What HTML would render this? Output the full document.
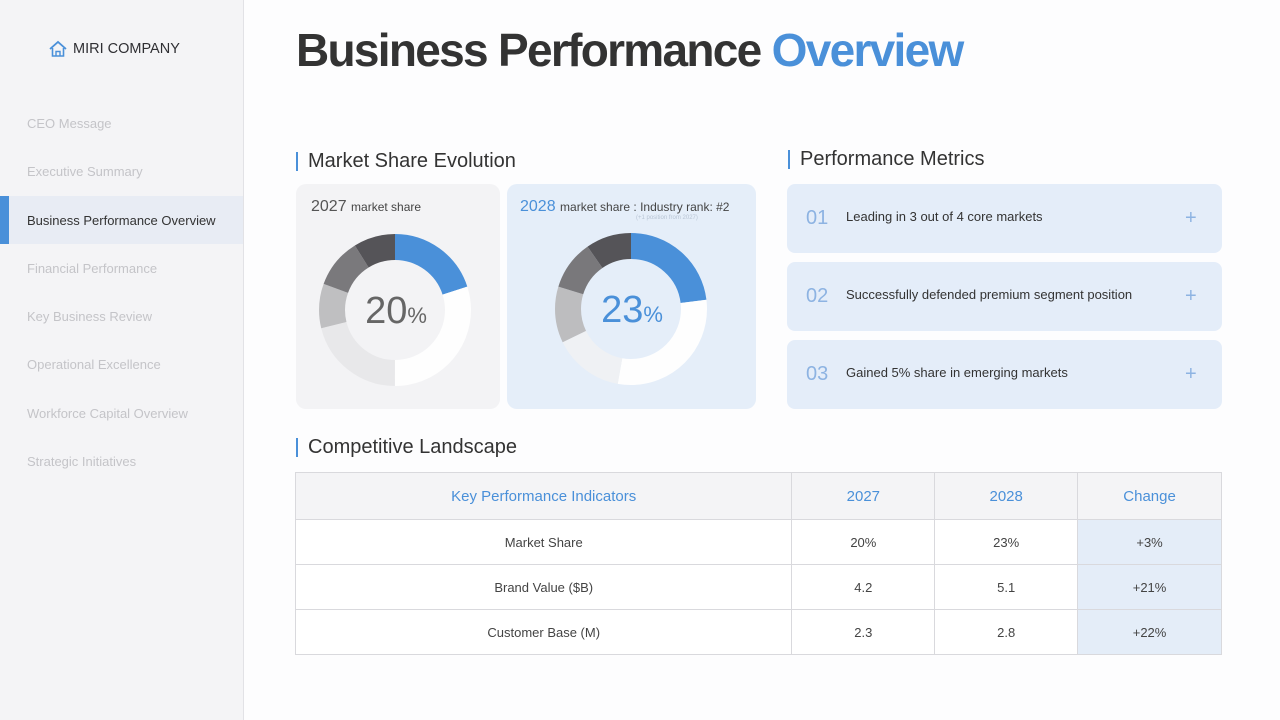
<!DOCTYPE html>
<html><head><meta charset="utf-8"><style>
*{margin:0;padding:0;box-sizing:border-box}
body{width:1280px;height:720px;overflow:hidden;background:#fdfdfe;font-family:"Liberation Sans",sans-serif;position:relative;color:#333}
.side{position:absolute;left:0;top:0;width:244px;height:720px;background:#f4f4f6;border-right:1px solid #e2e2e6}
.logo{position:absolute;left:48px;top:40px;display:flex;align-items:center}
.logo span{font-size:14.5px;color:#2f2f33;margin-left:5px;letter-spacing:0}
.nav{position:absolute;left:27px;font-size:13px;color:#c4c4c8;white-space:nowrap;line-height:16px}
.active{position:absolute;left:0;top:196px;width:243px;height:48px;background:#e8ecf4}
.active:before{content:"";position:absolute;left:0;top:0;width:9px;height:48px;background:#4a90d9}
.title{position:absolute;left:296px;top:24px;font-size:46px;font-weight:bold;letter-spacing:-1.7px;color:#333;white-space:nowrap;line-height:52px}
.title b{color:#4a90d9}
.h2{position:absolute;font-size:20px;color:#333;white-space:nowrap;line-height:24px}
.h2:before{content:"";position:absolute;left:-12px;top:3px;width:2px;height:19px;background:#4a90d9}
.card{position:absolute;top:184px;height:225px;border-radius:10px}
.pm{position:absolute;left:787px;width:435px;height:69px;background:#e4edf9;border-radius:8px}
.pm .n{position:absolute;left:19px;top:22px;font-size:20px;color:#8db3e2;font-weight:300;line-height:24px}
.pm .t{position:absolute;left:59px;top:25px;font-size:13px;color:#333;line-height:16px;white-space:nowrap}
.pm .p{position:absolute;left:398px;top:22px;font-size:20px;color:#8db3e2;line-height:24px;font-weight:300}
table{position:absolute;left:295px;top:472px;width:927px;border-collapse:collapse}
td,th{border:1.5px solid #d9d9dd;text-align:center;font-weight:normal}
th{height:47px;background:#f4f4f6;color:#4a90d9;font-size:15px}
td{height:45px;background:#fff;color:#444;font-size:13px}
td.c{background:#e4edf8}
</style></head><body>
<div class="side">
  <div class="logo">
    <svg width="20" height="18" viewBox="0 0 20 18"><path d="M2 9 L10 2 L18 9" fill="none" stroke="#4a90d9" stroke-width="1.8"/><path d="M4.5 8 V16 H15.5 V8" fill="none" stroke="#4a90d9" stroke-width="1.6"/><path d="M8 16 V11.5 H12 V16" fill="none" stroke="#4a90d9" stroke-width="1.4"/></svg>
    <span>MIRI COMPANY</span>
  </div>
  <div class="active"></div>
  <div class="nav" style="top:116px">CEO Message</div>
  <div class="nav" style="top:164px">Executive Summary</div>
  <div class="nav" style="top:213px;color:#333">Business Performance Overview</div>
  <div class="nav" style="top:261px">Financial Performance</div>
  <div class="nav" style="top:309px">Key Business Review</div>
  <div class="nav" style="top:357px">Operational Excellence</div>
  <div class="nav" style="top:406px">Workforce Capital Overview</div>
  <div class="nav" style="top:454px">Strategic Initiatives</div>
</div>

<div class="title">Business Performance <b>Overview</b></div>

<div class="h2" style="left:308px;top:149px">Market Share Evolution</div>
<div class="h2" style="left:800px;top:147px">Performance Metrics</div>
<div class="h2" style="left:308px;top:435px">Competitive Landscape</div>

<div class="card" style="left:296px;width:204px;background:#f3f3f5"></div>
<div class="card" style="left:507px;width:249px;background:#e5eef9"></div>

<div style="position:absolute;left:311px;top:198px;white-space:nowrap;line-height:18px"><span style="font-size:16px;color:#555">2027</span> <span style="font-size:12px;color:#444">market share</span></div>
<div style="position:absolute;left:520px;top:198px;white-space:nowrap;line-height:18px"><span style="font-size:16px;color:#4a90d9">2028</span> <span style="font-size:12px;color:#444">market share : Industry rank: #2</span></div>
<div style="position:absolute;left:636px;top:215px;font-size:6px;color:#b8c4d4;white-space:nowrap">(+1 position from 2027)</div>

<svg style="position:absolute;left:0;top:0" width="1280" height="720">
  <g transform="rotate(-90 395 310)" fill="none" stroke-width="26">
    <circle cx="395" cy="310" r="63" stroke="#4a90d9" stroke-dasharray="79.17 400" stroke-dashoffset="0"/>
    <circle cx="395" cy="310" r="63" stroke="#fefefe" stroke-dasharray="118.75 400" stroke-dashoffset="-79.17"/>
    <circle cx="395" cy="310" r="63" stroke="#e8e8ea" stroke-dasharray="83.57 400" stroke-dashoffset="-197.92"/>
    <circle cx="395" cy="310" r="63" stroke="#bfbfc1" stroke-dasharray="37.39 400" stroke-dashoffset="-281.48"/>
    <circle cx="395" cy="310" r="63" stroke="#7a797c" stroke-dasharray="41.78 400" stroke-dashoffset="-318.87"/>
    <circle cx="395" cy="310" r="63" stroke="#555458" stroke-dasharray="35.19 400" stroke-dashoffset="-360.65"/>
  </g>
  <g transform="rotate(-90 631 309)" fill="none" stroke-width="26">
    <circle cx="631" cy="309" r="63" stroke="#4a90d9" stroke-dasharray="91.26 400" stroke-dashoffset="0"/>
    <circle cx="631" cy="309" r="63" stroke="#fefefe" stroke-dasharray="117.65 400" stroke-dashoffset="-91.26"/>
    <circle cx="631" cy="309" r="63" stroke="#eff1f4" stroke-dasharray="59.38 400" stroke-dashoffset="-208.92"/>
    <circle cx="631" cy="309" r="63" stroke="#bdbdbf" stroke-dasharray="47.28 400" stroke-dashoffset="-268.29"/>
    <circle cx="631" cy="309" r="63" stroke="#79787b" stroke-dasharray="41.78 400" stroke-dashoffset="-315.57"/>
    <circle cx="631" cy="309" r="63" stroke="#555458" stroke-dasharray="38.48 400" stroke-dashoffset="-357.36"/>
  </g>
  <text x="396" y="323" text-anchor="middle" font-family="Liberation Sans, sans-serif" fill="#666"><tspan font-size="38">20</tspan><tspan font-size="22">%</tspan></text>
  <text x="632" y="322" text-anchor="middle" font-family="Liberation Sans, sans-serif" fill="#4a90d9"><tspan font-size="38">23</tspan><tspan font-size="22">%</tspan></text>
</svg>

<div class="pm" style="top:184px"><div class="n">01</div><div class="t">Leading in 3 out of 4 core markets</div><div class="p">+</div></div>
<div class="pm" style="top:262px"><div class="n">02</div><div class="t">Successfully defended premium segment position</div><div class="p">+</div></div>
<div class="pm" style="top:340px"><div class="n">03</div><div class="t">Gained 5% share in emerging markets</div><div class="p">+</div></div>

<table>
<tr><th style="width:497px">Key Performance Indicators</th><th style="width:143px">2027</th><th style="width:143px">2028</th><th style="width:144px">Change</th></tr>
<tr><td>Market Share</td><td>20%</td><td>23%</td><td class="c">+3%</td></tr>
<tr><td>Brand Value ($B)</td><td>4.2</td><td>5.1</td><td class="c">+21%</td></tr>
<tr><td>Customer Base (M)</td><td>2.3</td><td>2.8</td><td class="c">+22%</td></tr>
</table>
</body></html>
